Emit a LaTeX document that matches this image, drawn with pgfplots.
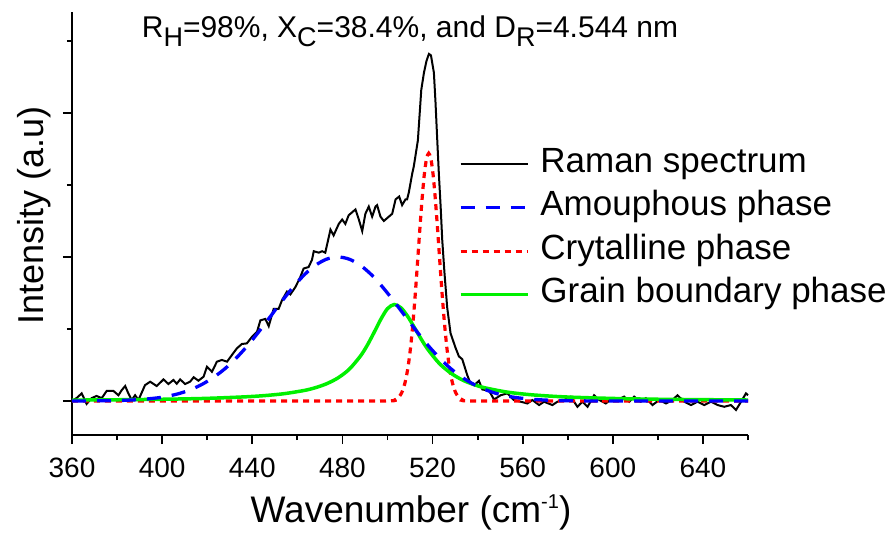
\documentclass[border=0pt]{standalone}
\usepackage{pgfplots}
\pgfplotsset{compat=1.18}
\usepackage{fontspec}
\setmainfont{Liberation Sans}
\definecolor{myblue}{RGB}{0,0,255}
\definecolor{myred}{RGB}{255,0,0}
\definecolor{mygreen}{RGB}{0,240,0}
\begin{document}
\begin{tikzpicture}
\begin{axis}[
  name=ax,
  scale only axis,
  width=676pt, height=423pt,
  xmin=360, xmax=660,
  ymin=-0.236, ymax=2.701,
  axis lines=left,
  axis line style={-, line width=2pt},
  clip=false,
  xtick={360,400,...,640},
  minor xtick={380,420,...,660},
  ytick={0,1,2},
  minor ytick={0.5,1.5,2.5},
  yticklabels={},
  tick align=outside,
  major tick length=9pt,
  minor tick length=5pt,
  every tick/.style={black, line width=1.8pt},
  /pgf/number format/assume math mode=true,
  /pgf/number format/1000 sep={},
  xticklabel style={font=\fontsize{28}{30}\selectfont, anchor=base, yshift=-33pt},
  every axis x label/.style={at={(axis description cs:0.5015,-0.2057)}, anchor=base, font=\fontsize{37}{40}\selectfont},
  every axis y label/.style={at={(axis description cs:-0.0429,0.52)}, anchor=base, rotate=90, font=\fontsize{36}{40}\selectfont},
  xlabel={Wavenumber (cm\raisebox{14pt}{\fontsize{20}{20}\selectfont -1})},
  ylabel={Intensity (a.u)},
  legend style={draw=none, fill=none, inner xsep=0pt, inner ysep=0pt,
    at={(axis cs:531.6,1.757)}, anchor=north west,
    font=\fontsize{35}{38}\selectfont,
    nodes={inner xsep=11pt, inner ysep=0pt, text height=24pt, text depth=8pt},
    row sep=11.5pt},
  legend cell align=left,
  legend image code/.code={\draw[#1] (0pt,0pt) -- (67pt,0pt);},
]
% Raman spectrum (measured)
\addplot[black, line width=2pt, forget plot] coordinates {
(360.0,0.00) (362.0,0.02) (364.3,0.053) (366.5,-0.02) (368.7,0.02) (370.9,0.035)
(373.2,0.02) (375.4,0.07) (378.4,0.07) (380.6,0.04) (382.1,0.076) (383.6,0.104)
(385.0,0.053) (386.5,0.007) (388.0,0.04) (389.5,0.007) (392.4,0.11) (394.7,0.134)
(397.6,0.104) (400.6,0.15) (402.8,0.118) (405.0,0.146) (406.5,0.12) (408.0,0.15)
(410.2,0.118) (412.4,0.134) (414.0,0.165) (416.1,0.141) (418.4,0.169) (419.9,0.238)
(422.1,0.203) (424.3,0.273) (426.5,0.285) (428.8,0.273) (431.0,0.32) (433.2,0.366)
(435.4,0.396) (437.6,0.40) (439.9,0.446) (442.1,0.48) (443.6,0.56) (445.8,0.57)
(447.3,0.52) (449.5,0.64) (451.7,0.64) (453.2,0.70) (455.4,0.76) (456.9,0.74)
(459.1,0.79) (461.3,0.86) (462.8,0.92) (465.0,0.93) (466.5,0.98) (467.3,1.04)
(469.5,1.03) (471.0,1.04) (472.4,1.03) (474.7,1.19) (476.1,1.15) (478.4,1.23)
(479.9,1.26) (481.3,1.23) (482.8,1.29) (484.3,1.31) (485.8,1.33) (487.3,1.26)
(488.8,1.18) (490.2,1.30) (491.7,1.35) (493.2,1.28) (494.7,1.35) (495.4,1.36)
(496.9,1.28) (498.4,1.25) (500.6,1.28) (502.1,1.30) (503.6,1.40) (505.2,1.42)
(506.5,1.36) (508.0,1.40) (508.7,1.40) (509.5,1.45) (511.0,1.58) (511.7,1.63)
(513.5,1.81) (515.0,2.16) (516.2,2.28) (517.3,2.36) (518.4,2.41) (519.3,2.40)
(520.6,2.28) (521.3,2.08) (522.1,1.81) (522.8,1.58) (523.6,1.35) (524.3,1.12)
(525.3,0.89) (526.5,0.65) (528.0,0.47) (530.2,0.37) (531.7,0.31) (533.2,0.29)
(535.4,0.18) (536.9,0.12) (538.5,0.11) (540.6,0.14) (542.1,0.08) (543.6,0.076)
(544.5,0.088) (547.3,0.01) (550.2,0.04) (553.2,0.053) (556.1,0.007) (559.1,-0.005)
(562.1,-0.017) (564.3,0.007) (567.3,-0.028) (569.5,-0.005) (573.2,-0.028) (575.4,-0.005)
(578.4,0.007) (581.3,0.03) (584.3,-0.04) (586.5,-0.005) (588.8,-0.04) (591.7,0.04)
(594.0,0.007) (596.9,-0.017) (599.9,0.02) (602.1,0.007) (605.0,0.03) (607.3,-0.005)
(609.5,0.03) (612.4,-0.005) (614.7,0.02) (617.6,-0.028) (620.6,0.007) (623.6,-0.017)
(626.5,0.007) (628.7,0.04) (631.7,-0.005) (634.7,-0.028) (637.6,-0.005) (640.6,-0.028)
(643.6,-0.005) (646.5,-0.028) (649.5,-0.04) (652.4,-0.028) (654.7,-0.062) (656.9,-0.005)
(659.1,0.053) (660.0,0.04)
};
% Crystalline phase
\addplot[myred, line width=3.2pt, dash pattern=on 6pt off 5pt, smooth, forget plot] coordinates {
(360,0) (480,0) (501.3,0.001) (503.3,0.008) (504.3,0.017) (505.3,0.032) (506.3,0.057)
(507.3,0.099) (508.3,0.162) (509.3,0.254) (510.3,0.379) (511.3,0.540) (512.3,0.734)
(513.3,0.953) (514.3,1.179) (515.3,1.390) (516.3,1.565) (517.3,1.680) (518.3,1.720)
(519.3,1.680) (520.3,1.565) (521.3,1.390) (522.3,1.179) (523.3,0.953) (524.3,0.734)
(525.3,0.540) (526.3,0.379) (527.3,0.254) (528.3,0.162) (529.3,0.099) (530.3,0.057)
(531.3,0.032) (532.3,0.017) (533.3,0.008) (535.3,0.001) (560,0) (660,0)
};
% Grain boundary phase
\addplot[mygreen, line width=3.5pt, smooth, forget plot] coordinates {
(360,0.0064) (380,0.0086) (400,0.0121) (420,0.0185) (440,0.0317) (453,0.0487)
(463,0.0731) (468,0.0924) (473,0.120) (478,0.160) (483,0.220) (488,0.312)
(491,0.386) (494,0.474) (497,0.566) (500,0.641) (503,0.670) (506,0.647)
(509,0.587) (512,0.509) (515,0.429) (518,0.357) (523,0.261) (528,0.195)
(533,0.148) (538,0.116) (543,0.0924) (553,0.0622) (563,0.0445) (573,0.0333)
(583,0.0258) (603,0.0167) (623,0.0117) (660,0.0069)
};
% Amorphous phase
\addplot[myblue, line width=3.3pt, dash pattern=on 14pt off 11pt, smooth, forget plot] coordinates {
(360,0) (370,0.001) (380,0.003) (390,0.010) (398,0.022) (403,0.035) (408,0.054)
(413,0.081) (418,0.118) (423,0.166) (428,0.226) (433,0.300) (438,0.386)
(443,0.483) (448,0.586) (453,0.690) (458,0.788) (463,0.875) (468,0.942)
(473,0.985) (478,1.000) (483,0.985) (488,0.942) (493,0.875) (498,0.788)
(503,0.690) (508,0.586) (513,0.483) (518,0.386) (523,0.300) (528,0.226)
(533,0.166) (538,0.118) (543,0.081) (548,0.054) (553,0.035) (558,0.022)
(566,0.010) (576,0.003) (586,0.001) (600,0) (660,0)
};
\addlegendimage{black, line width=2pt}
\addlegendentry{Raman spectrum}
\addlegendimage{myblue, line width=3.3pt, dash pattern=on 14pt off 11pt}
\addlegendentry{Amouphous phase}
\addlegendimage{myred, line width=3.2pt, dash pattern=on 6pt off 5pt}
\addlegendentry{Crytalline phase}
\addlegendimage{mygreen, line width=3.5pt}
\addlegendentry{Grain boundary phase}
\node[anchor=base, font=\fontsize{30}{32}\selectfont] at (rel axis cs:0.5,0.9395)
 {R\raisebox{-9pt}{\fontsize{27}{28}\selectfont H}=98\%, X\raisebox{-9pt}{\fontsize{27}{28}\selectfont C}=38.4\%, and D\raisebox{-9pt}{\fontsize{27}{28}\selectfont R}=4.544 nm};
\end{axis}
\pgfresetboundingbox
\path[use as bounding box] (ax.south west) ++(-72pt,-98pt) rectangle ++(895pt,533pt);
\end{tikzpicture}
\end{document}
